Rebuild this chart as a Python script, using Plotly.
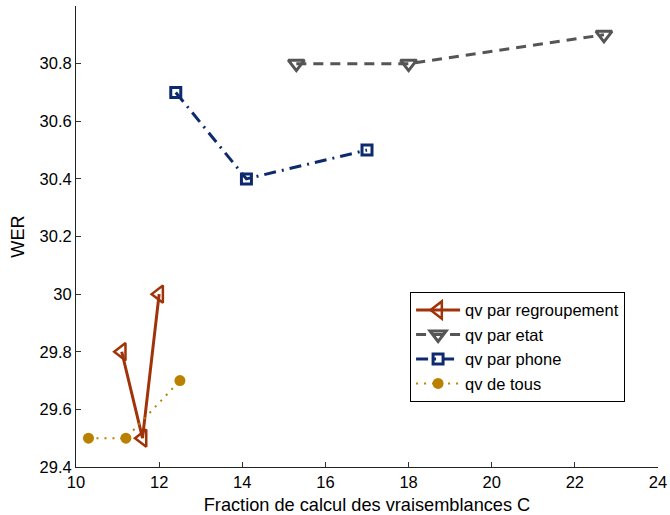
import plotly.graph_objects as go

# Data
regroup_x = [11.1, 11.6, 12.0]
regroup_y = [29.8, 29.5, 30.0]
etat_x = [15.3, 18.0, 22.7]
etat_y = [30.8, 30.8, 30.9]
phone_x = [12.4, 14.1, 17.0]
phone_y = [30.7, 30.4, 30.5]
tous_x = [10.3, 11.2, 12.5]
tous_y = [29.5, 29.5, 29.7]

x_ticks = [10, 12, 14, 16, 18, 20, 22, 24]
y_ticks = [29.4, 29.6, 29.8, 30.0, 30.2, 30.4, 30.6, 30.8]
y_labels = ["29.4", "29.6", "29.8", "30", "30.2", "30.4", "30.6", "30.8"]

fig = go.Figure()
fig.add_trace(go.Scatter(
    x=regroup_x, y=regroup_y, mode="lines+markers", name="qv par regroupement",
    line=dict(color="#A0330A", width=3),
    marker=dict(symbol="triangle-left-open", size=15, color="#A0330A", line=dict(width=2.5))))
fig.add_trace(go.Scatter(
    x=etat_x, y=etat_y, mode="lines+markers", name="qv par etat",
    line=dict(color="#555555", width=3, dash="10px,7px"),
    marker=dict(symbol="triangle-down-open", size=14, color="#555555", line=dict(width=3))))
fig.add_trace(go.Scatter(
    x=phone_x, y=phone_y, mode="lines+markers", name="qv par phone",
    line=dict(color="#0E2A6E", width=3, dash="12px,6px,2px,6px"),
    marker=dict(symbol="square-open", size=10, color="#0E2A6E", line=dict(width=3))))
fig.add_trace(go.Scatter(
    x=tous_x, y=tous_y, mode="lines+markers", name="qv de tous",
    line=dict(color="#BA8000", width=2, dash="2px,6px"),
    marker=dict(symbol="circle", size=11, color="#BA8000")))

font = "Liberation Sans, Arial, sans-serif"
fig.update_layout(
    width=670, height=515,
    margin=dict(l=76, r=12, t=6, b=48),
    plot_bgcolor="white", paper_bgcolor="white",
    font=dict(family=font, size=16.5, color="black"),
    showlegend=True,
    legend=dict(x=0.574, y=0.38, xanchor="left", yanchor="top",
                bordercolor="black", borderwidth=1, bgcolor="white",
                font=dict(size=16.5, family=font), tracegroupgap=0,
                itemwidth=44),
    xaxis=dict(range=[10, 24], tickvals=x_ticks, ticktext=[str(v) for v in x_ticks],
               ticks="inside", ticklen=5, tickcolor="#333", showline=True,
               linecolor="#222", linewidth=1, showgrid=False, zeroline=False,
               automargin=False,
               title=dict(text="Fraction de calcul des vraisemblances C", font=dict(size=18.2), standoff=8),
               tickfont=dict(size=16.5)),
    yaxis=dict(range=[29.4, 31.0], tickvals=y_ticks, ticktext=y_labels,
               ticks="inside", ticklen=5, tickcolor="#333", showline=True,
               linecolor="#222", linewidth=1, showgrid=False, zeroline=False,
               automargin=False,
               title=dict(text="WER", font=dict(size=18.2), standoff=10),
               tickfont=dict(size=16.5)),
)
fig.write_html("out.html", config={"displayModeBar": False},
               post_script="document.body.style.margin='0';")
